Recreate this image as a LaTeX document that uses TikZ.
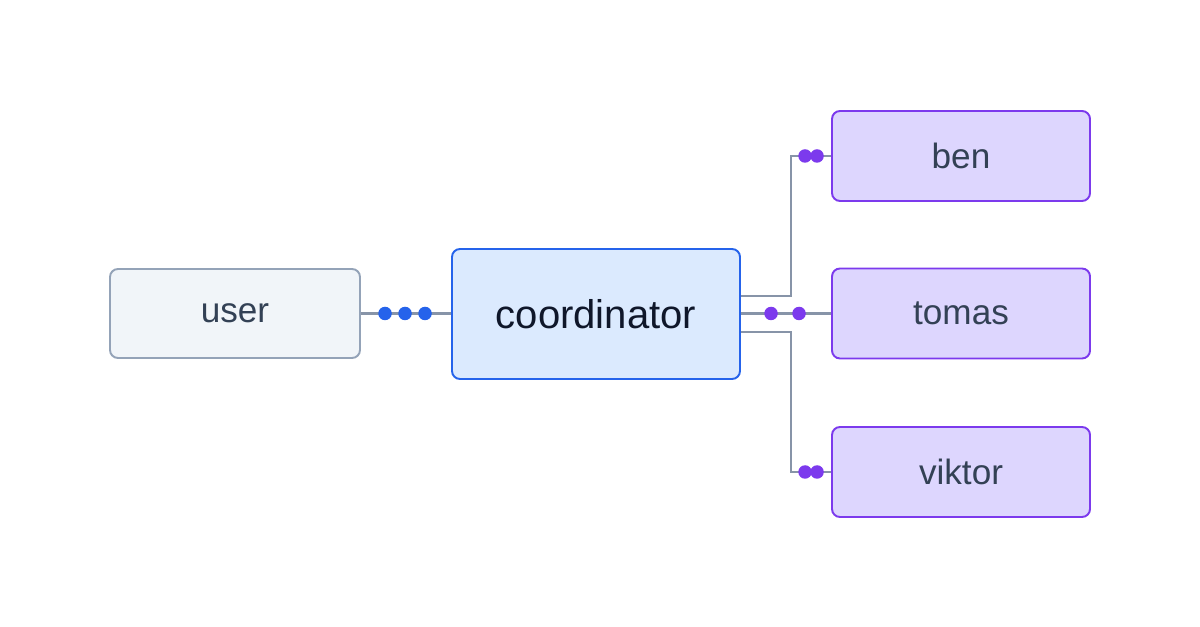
\documentclass[tikz,border=0pt]{standalone}
\usepackage{fontspec}
\setmainfont{Liberation Sans}
\definecolor{slateline}{HTML}{8794A8}
\definecolor{userfill}{HTML}{F1F5F9}
\definecolor{userdraw}{HTML}{94A3B8}
\definecolor{usertext}{HTML}{334155}
\definecolor{cofill}{HTML}{DBEAFE}
\definecolor{codraw}{HTML}{2563EB}
\definecolor{cotext}{HTML}{0F172A}
\definecolor{agfill}{HTML}{DDD6FE}
\definecolor{agdraw}{HTML}{7C3AED}
\begin{document}
\begin{tikzpicture}[
        user/.style={rectangle, rounded corners=0.16cm, draw=userdraw, fill=userfill, line width=1.1pt, minimum width=5cm, minimum height=1.78cm, text=usertext, font=\fontsize{20}{24}\selectfont},
        coord/.style={rectangle, rounded corners=0.16cm, draw=codraw, fill=cofill, line width=1.1pt, minimum width=5.76cm, minimum height=2.6cm, text=cotext, font=\fontsize{22.8}{27}\selectfont},
        agent/.style={rectangle, rounded corners=0.16cm, draw=agdraw, fill=agfill, line width=1.1pt, minimum width=5.16cm, minimum height=1.8cm, text=usertext, font=\fontsize{20}{24}\selectfont},
        link/.style={draw=slateline, line width=1.6pt},
        bdot/.style={fill=codraw},
        pdot/.style={fill=agdraw}
    ]
    \useasboundingbox (0,0) rectangle (24,12.54);
    \node[user] (user) at (4.7,6.27) {user};
    \node[coord] (co) at (11.92,6.26) {coordinator};
    \node[agent] (ben) at (19.22,9.42) {ben};
    \node[agent] (tomas) at (19.22,6.27) {tomas};
    \node[agent] (viktor) at (19.22,3.10) {viktor};
    % connectors
    \draw[link] (user.east) -- (user.east -| co.west);
    \draw[link] ([yshift=0.36cm]co.east) -- ++(1,0) |- (ben.west);
    \draw[link] (tomas.west -| co.east) -- (tomas.west);
    \draw[link] ([yshift=-0.36cm]co.east) -- ++(1,0) |- (viktor.west);
    % dots
    \foreach \dx in {1.32,0.92,0.52}
        \fill[bdot] ([xshift=-\dx cm]user.east -| co.west) circle (0.135);
    \foreach \dx in {1.2,0.64}
        \fill[pdot] ([xshift=-\dx cm]tomas.west) circle (0.135);
    \foreach \dx in {0.52,0.28} {
        \fill[pdot] ([xshift=-\dx cm]ben.west) circle (0.135);
        \fill[pdot] ([xshift=-\dx cm]viktor.west) circle (0.135);
    }
\end{tikzpicture}
\end{document}
